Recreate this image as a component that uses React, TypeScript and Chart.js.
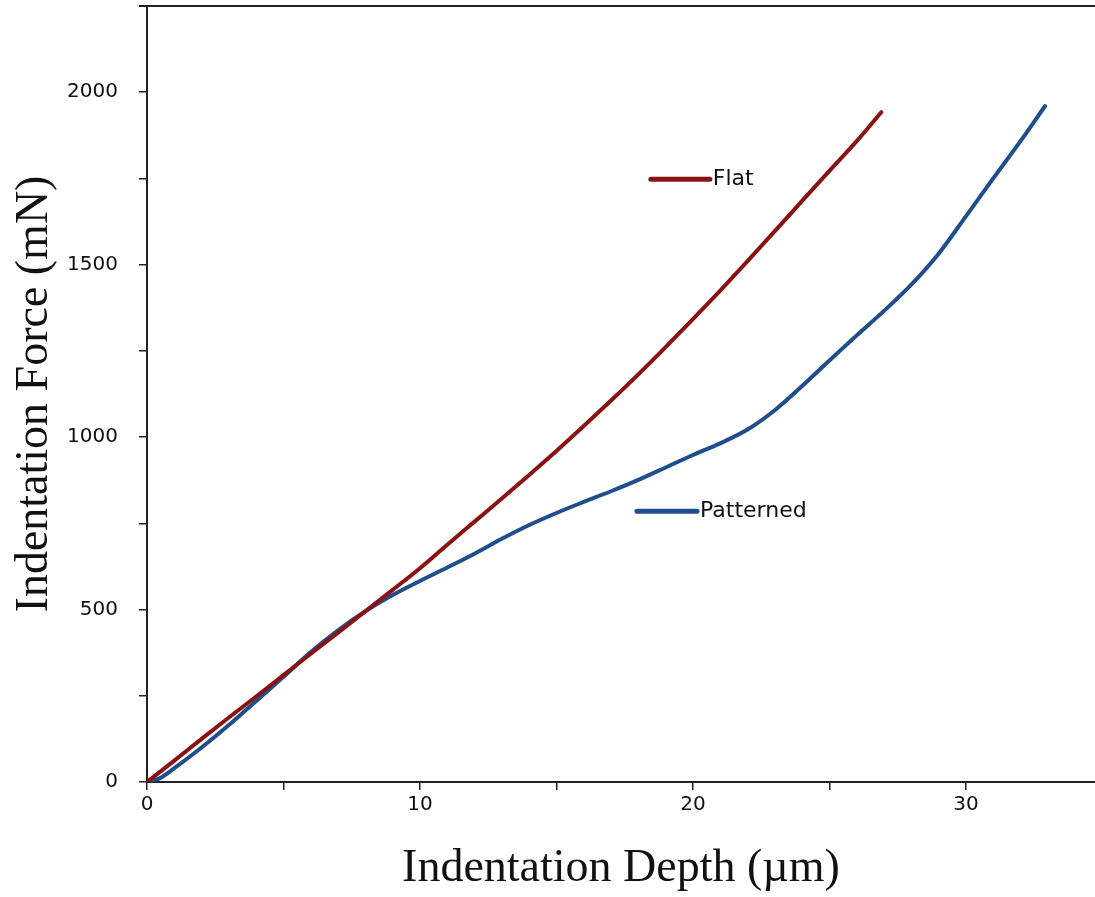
import React, { useEffect, useRef } from "react";
import { Chart, registerables } from "chart.js";

Chart.register(...registerables);

const flatDepth = [0, 1, 2, 3, 4, 5, 6, 7, 8, 9, 10, 11, 12, 13, 14, 15, 16, 17, 18, 19, 20, 21, 22, 23, 24, 25, 26, 26.9];
const flatForce = [0, 62, 125, 187, 248, 310, 372, 433, 495, 557, 620, 688, 755, 822, 890, 960, 1032, 1106, 1182, 1261, 1342, 1425, 1510, 1597, 1685, 1772, 1858, 1942];

const patDepth = [0, 0.5, 1, 2, 3, 4, 5, 6, 7, 8, 9, 10, 11, 12, 13, 14, 15, 16, 17, 18, 19, 20, 21, 22, 23, 24, 25, 26, 27, 28, 29, 30, 31, 32, 32.9];
const patForce = [0, 12, 40, 100, 165, 235, 305, 377, 440, 495, 542, 583, 622, 662, 705, 745, 780, 812, 843, 876, 912, 948, 982, 1022, 1078, 1148, 1222, 1295, 1366, 1442, 1532, 1640, 1750, 1858, 1960];

const seriesNames = ["Flat", "Patterned"];
const legendX = [[18.46, 20.62], [17.95, 20.15]];
const legendY = [1748, 785];

const xTitle = "Indentation Depth (\u00b5m)";
const yTitle = "Indentation Force (mN)";

const RED = "#8B1212";
const BLUE = "#1F4E8C";

export default function App() {
  const ref = useRef<HTMLCanvasElement>(null);
  useEffect(() => {
    const canvas = ref.current!;
    const toPts = (xs: number[], ys: number[]) => xs.map((x, i) => ({ x, y: ys[i] }));
    const annot = {
      id: "annot",
      afterDatasetsDraw(chart: any) {
        const { ctx, scales } = chart;
        ctx.save();
        ctx.font = '22px "DejaVu Sans"';
        ctx.fillStyle = "#111";
        ctx.textBaseline = "middle";
        ctx.textAlign = "left";
        seriesNames.forEach((n, i) => {
          const px = scales.x.getPixelForValue(legendX[i][1]) + 3;
          const py = scales.y.getPixelForValue(legendY[i]);
          ctx.fillText(n, px, py);
        });
        ctx.restore();
      },
      afterDraw(chart: any) {
        const { ctx, chartArea } = chart;
        ctx.save();
        ctx.strokeStyle = "#222";
        ctx.lineWidth = 2;
        ctx.beginPath();
        ctx.moveTo(chartArea.left - 8, chartArea.top);
        ctx.lineTo(chart.width, chartArea.top);
        ctx.stroke();
        ctx.restore();
      },
    };
    const zeroPad = (s: any) => {
      s.paddingTop = 0;
      s.paddingBottom = 0;
      s.paddingLeft = 0;
      s.paddingRight = 0;
    };
    const chart = new Chart(canvas, {
      type: "line",
      data: {
        datasets: [
          {
            label: seriesNames[0],
            data: toPts(flatDepth, flatForce),
            borderColor: RED,
            borderWidth: 4,
            pointRadius: 0,
            cubicInterpolationMode: "monotone",
            borderCapStyle: "round",
          },
          {
            label: seriesNames[1],
            data: toPts(patDepth, patForce),
            borderColor: BLUE,
            borderWidth: 4,
            pointRadius: 0,
            cubicInterpolationMode: "monotone",
            borderCapStyle: "round",
          },
          {
            label: "legFlat",
            data: toPts(legendX[0], [legendY[0], legendY[0]]),
            borderColor: RED,
            borderWidth: 5,
            pointRadius: 0,
            borderCapStyle: "round",
          },
          {
            label: "legPat",
            data: toPts(legendX[1], [legendY[1], legendY[1]]),
            borderColor: BLUE,
            borderWidth: 5,
            pointRadius: 0,
            borderCapStyle: "round",
          },
        ],
      },
      options: {
        responsive: false,
        animation: false,
        layout: { padding: { top: 6, right: 0, left: 0, bottom: 0 } },
        plugins: { legend: { display: false }, tooltip: { enabled: false } },
        scales: {
          x: {
            type: "linear",
            min: 0,
            max: 34.73,
            afterFit: (s: any) => {
              s.height = 115;
              zeroPad(s);
            },
            border: { color: "#222", width: 2 },
            grid: { drawOnChartArea: false, tickLength: 8, color: "#222", lineWidth: 1.5 },
            ticks: {
              stepSize: 5,
              includeBounds: false,
              maxRotation: 0,
              autoSkip: false,
              padding: 3,
              color: "#111",
              font: { family: '"DejaVu Sans"', size: 20 },
              callback: (v: any) => (Number(v) % 10 === 0 ? String(v) : ""),
            },
            title: {
              display: true,
              text: xTitle,
              color: "#111",
              font: { family: '"Liberation Serif"', size: 46 },
              padding: { top: 0, bottom: 0 },
            },
          },
          y: {
            type: "linear",
            min: 0,
            max: 2250,
            afterFit: (s: any) => {
              s.width = 147;
              zeroPad(s);
            },
            border: { color: "#222", width: 2 },
            grid: { drawOnChartArea: false, tickLength: 8, color: "#222", lineWidth: 1.5 },
            ticks: {
              stepSize: 250,
              autoSkip: false,
              padding: 21,
              color: "#111",
              font: { family: '"DejaVu Sans"', size: 20 },
              callback: (v: any) => (Number(v) % 500 === 0 ? String(v) : ""),
            },
            title: {
              display: true,
              text: yTitle,
              color: "#111",
              font: { family: '"Liberation Serif"', size: 46 },
              padding: { top: 7, bottom: 0 },
            },
          },
        },
      },
      plugins: [annot],
    } as any);
    return () => chart.destroy();
  }, []);
  return (
    <div style={{ position: "absolute", left: 0, top: 0, width: 1095, height: 897, background: "#fff" }}>
      <canvas ref={ref} width={1095} height={897} style={{ display: "block" }} />
    </div>
  );
}
